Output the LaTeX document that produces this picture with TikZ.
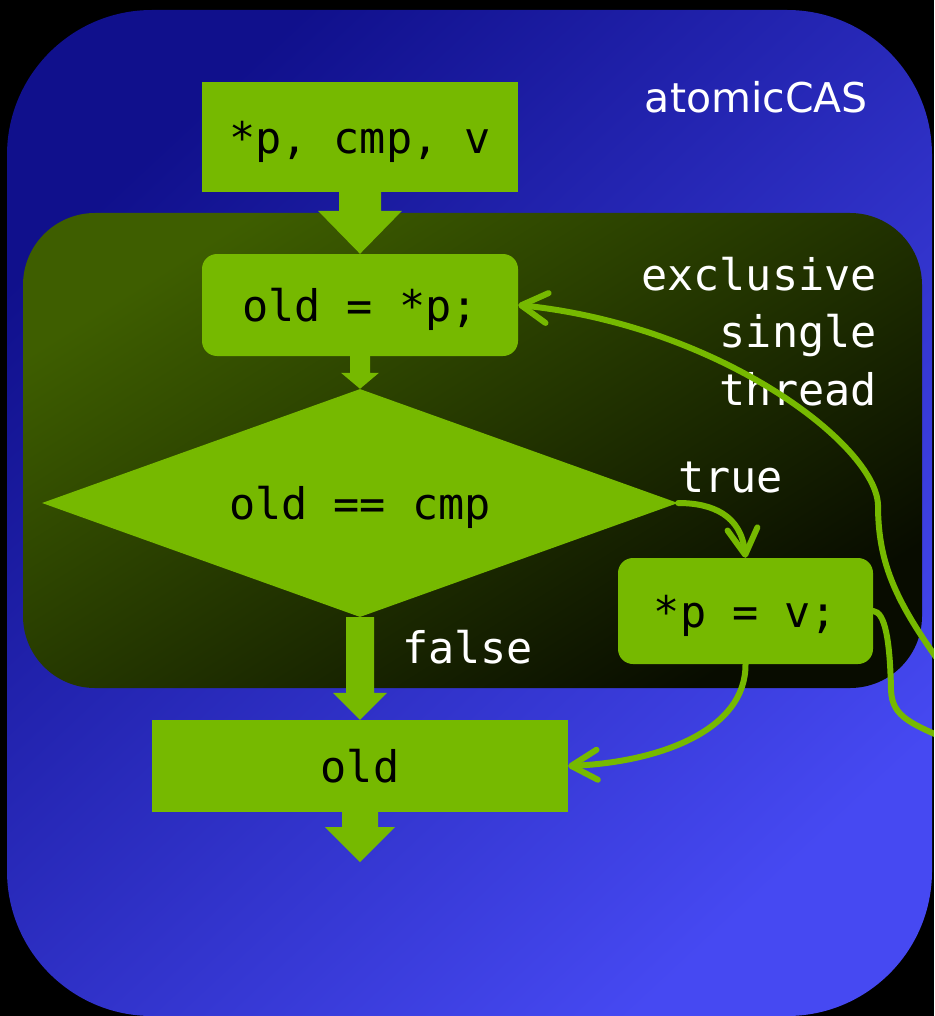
\documentclass[tikz,border=0pt]{standalone}
\usepackage{fontspec}
\setmainfont{DejaVu Sans}
\setsansfont{DejaVu Sans}
\setmonofont{DejaVu Sans Mono}
\usetikzlibrary{arrows.meta,shapes.geometric,calc}

\definecolor{leaf}{HTML}{76B900}
\definecolor{navyA}{HTML}{10108C}
\definecolor{navyB}{HTML}{4649F2}
\definecolor{mossA}{HTML}{3E5E00}
\definecolor{mossM}{HTML}{324E00}
\definecolor{mossB}{HTML}{080C00}

\tikzset{
  code/.style={fill=leaf,inner sep=0pt,text=black,text height=33pt,text depth=0pt,
    font=\ttfamily\fontsize{43.5pt}{52pt}\selectfont},
  stepbox/.style={code,rounded corners=15pt},
  tag/.style={text=white,inner sep=0pt,
    font=\ttfamily\fontsize{43.5pt}{57.5pt}\selectfont},
  flow/.style={color=leaf,line width=6pt,line cap=round,
    -{Straight Barb[length=26pt,width=30pt,round]}},
}

% fat downward arrow: from, to, half shaft, half head, head length
\newcommand{\blockarrow}[5]{%
  \fill[leaf] let \p1=(#1), \p2=(#2) in
    (\x1-#3,\y1) -- (\x1+#3,\y1) -- (\x1+#3,\y2+#5) -- (\x1+#4,\y2+#5)
    -- (\x2,\y2) -- (\x1-#4,\y2+#5) -- (\x1-#3,\y2+#5) -- cycle;}

\begin{document}
\begin{tikzpicture}[x=1pt,y=-1pt]
  \useasboundingbox (0,0) rectangle (934,1016);
  \fill[black] (0,0) rectangle (934,1016);
  \clip (0,0) rectangle (934,1016);

  % panels
  \shade[rounded corners=145pt,top color=navyA,bottom color=navyB,shading angle=43]
    (7,10) rectangle (932,1016);
  \shade[rounded corners=72pt,top color=mossA,middle color=mossM,bottom color=mossB,shading angle=32]
    (23,213) rectangle (922,688);

  % steps
  \node[code,minimum width=316pt,minimum height=110pt] (in) at (360,137) {*p, cmp, v};
  \node[stepbox,minimum width=316pt,minimum height=102pt] (load) at (360,305) {old = *p;};
  \node[code,diamond,aspect=2.79,minimum width=636pt,minimum height=228pt] (cmp) at (360,503) {old == cmp};
  \node[stepbox,minimum width=255pt,minimum height=106pt] (store) at (745.5,611) {*p = v;};
  \node[code,minimum width=416pt,minimum height=92pt] (old) at (360,766) {old};
  \coordinate (out) at (360,862);

  % texts
  \node[tag,anchor=base east,font=\sffamily\fontsize{41pt}{50pt}\selectfont] (title) at (868,113) {atomicCAS};
  \node[tag,align=right,anchor=base east] (excl) at (877,405) {exclusive\\single\\thread};
  \node[tag,anchor=base west] (yes) at (678,492) {true};
  \node[tag,anchor=base west] (no) at (402,663) {false};

  % main flow
  \blockarrow{in.south}{load.north}{21pt}{42pt}{43pt}
  \blockarrow{load.south}{cmp.north}{10pt}{19pt}{16pt}
  \blockarrow{cmp.south}{old.north}{14pt}{27pt}{27pt}
  \blockarrow{old.south}{out}{18pt}{35pt}{35pt}

  % branches
  \draw[flow] (cmp.east) .. controls (712,503) and (741,515) .. (store.north);
  \draw[flow] (store.south) .. controls (746,730) and (660,762) .. (old.east);
  \draw[flow] (store.east) .. controls (885,612) and (890,640) .. (891,690)
    .. controls (892,718) and (912,724) .. (960,745)
    .. controls (1010,768) and (990,730) .. (960,690)
    .. controls (900,610) and (878,570) .. (878,505)
    .. controls (876,445) and (720,326) .. (load.east);
\end{tikzpicture}
\end{document}
